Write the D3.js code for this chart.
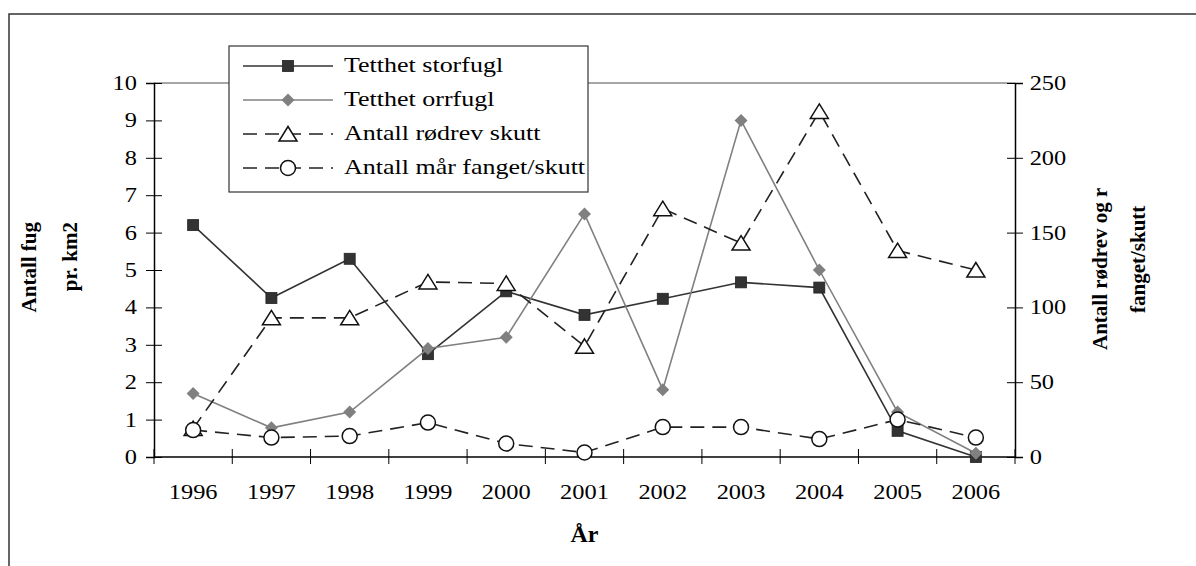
<!doctype html>
<html>
<head>
<script src="https://d3js.org/d3.v7.min.js"></script>
<style>
body { margin: 0; background: #fff; }
svg text { font-family: "Liberation Serif", "Times New Roman", serif; fill: #000; }
</style>
</head>
<body>
<svg width="1196" height="566"></svg>
<script>
// data
var years = [1996, 1997, 1998, 1999, 2000, 2001, 2002, 2003, 2004, 2005, 2006];
var storfugl = [6.2, 4.25, 5.3, 2.75, 4.43, 3.8, 4.23, 4.67, 4.53, 0.7, 0.0];
var orrfugl = [1.7, 0.78, 1.2, 2.9, 3.2, 6.5, 1.8, 9.0, 5.0, 1.2, 0.1];
var rodrev = [19, 93, 93, 117, 116, 74, 166, 143, 231, 138, 125];
var maar = [18, 13, 14, 23, 9, 3, 20, 20, 12, 25, 13];
var leftTicks = [0, 1, 2, 3, 4, 5, 6, 7, 8, 9, 10];
var rightTicks = [0, 50, 100, 150, 200, 250];
var seriesNames = ["Tetthet storfugl", "Tetthet orrfugl", "Antall rødrev skutt", "Antall mår fanget/skutt"];

var svg = d3.select("svg");
var L = 154, R = 1015, T = 83, B = 457;

// outer chart border (runs off the right and bottom edge)
svg.append("rect")
	.attr("x", 9).attr("y", 14)
	.attr("width", 1200).attr("height", 600)
	.attr("fill", "none").attr("stroke", "#333").attr("stroke-width", 1.5);

var x = d3.scaleBand().domain(years).range([L, R]);
var cx = d => x(d) + x.bandwidth() / 2;
var yL = d3.scaleLinear().domain([0, 10]).range([B, T]);
var yR = d3.scaleLinear().domain([0, 250]).range([B, T]);

// plot area top border
svg.append("line")
	.attr("x1", L).attr("x2", R).attr("y1", T).attr("y2", T)
	.attr("stroke", "#888").attr("stroke-width", 1.5);

// left axis
var gl = svg.append("g").attr("transform", "translate(" + L + ",0)")
	.call(d3.axisLeft(yL).tickValues(leftTicks).tickSize(8).tickFormat(d3.format("d")));
gl.selectAll(".tick line").attr("x1", -8).attr("x2", 8);
gl.selectAll("text").attr("x", -14).attr("transform", "scale(1.22,1)");

// right axis
var gr = svg.append("g").attr("transform", "translate(" + R + ",0)")
	.call(d3.axisRight(yR).tickValues(rightTicks).tickSize(8));
gr.selectAll(".tick line").attr("x1", -8).attr("x2", 8);
gr.selectAll("text").attr("x", 12).attr("transform", "scale(1.22,1)");

// bottom axis: labels at category centres, ticks between categories
var gb = svg.append("g").attr("transform", "translate(0," + B + ")");
gb.append("line").attr("x1", L).attr("x2", R).attr("stroke", "#000").attr("stroke-width", 1.5);
gb.selectAll("line.tk").data(years.concat(["end"])).enter().append("line")
	.attr("class", "tk")
	.attr("x1", d => d === "end" ? R : x(d)).attr("x2", d => d === "end" ? R : x(d))
	.attr("y1", -8).attr("y2", 7).attr("stroke", "#000");
gb.selectAll("g.lab").data(years).enter().append("g")
	.attr("class", "lab")
	.attr("transform", d => "translate(" + cx(d) + ",42)")
	.append("text").attr("text-anchor", "middle").attr("font-size", 20)
	.attr("transform", "scale(1.22,1)").text(d => d);

[gl, gr].forEach(function(g) {
	g.select(".domain").attr("stroke", "#000").attr("stroke-width", 1.5);
	g.selectAll(".tick line").attr("stroke", "#000");
	g.selectAll("text").attr("font-size", 20).attr("font-family", "Liberation Serif").attr("fill", "#000");
});

// axis titles
svg.append("text").attr("x", (L + R) / 2).attr("y", 542)
	.attr("text-anchor", "middle").attr("font-weight", "bold").attr("font-size", 24).text("År");

svg.append("text").attr("transform", "translate(36,222) rotate(-90)")
	.attr("text-anchor", "end").attr("font-weight", "bold").attr("font-size", 21).text("Antall fug");
svg.append("text").attr("transform", "translate(77,222) rotate(-90)")
	.attr("text-anchor", "end").attr("font-weight", "bold").attr("font-size", 21).text("pr. km2");
svg.append("text").attr("transform", "translate(1107,350) rotate(-90)")
	.attr("font-weight", "bold").attr("font-size", 21).text("Antall rødrev og r");
svg.append("text").attr("transform", "translate(1145,313) rotate(-90)")
	.attr("font-weight", "bold").attr("font-size", 21).text("fanget/skutt");

// series
var series = [
	{name: seriesNames[0], vals: storfugl, y: yL, color: "#333", dash: null, marker: "square"},
	{name: seriesNames[1], vals: orrfugl, y: yL, color: "#808080", dash: null, marker: "diamond"},
	{name: seriesNames[2], vals: rodrev, y: yR, color: "#222", dash: "14,8", marker: "triangle"},
	{name: seriesNames[3], vals: maar, y: yR, color: "#222", dash: "14,8", marker: "circle"}
];

function drawMarker(g, type, color) {
	if (type === "square") {
		g.append("rect").attr("x", -5.5).attr("y", -5.5).attr("width", 11).attr("height", 11)
			.attr("fill", color).attr("stroke", "#222").attr("stroke-width", 0.8);
	} else if (type === "diamond") {
		g.append("path").attr("d", "M0,-6.5L6.5,0L0,6.5L-6.5,0Z").attr("fill", color);
	} else if (type === "triangle") {
		g.append("path").attr("d", "M0,-7.5L9,7L-9,7Z")
			.attr("fill", "#fff").attr("stroke", "#111").attr("stroke-width", 1.5);
	} else {
		g.append("circle").attr("r", 7.5)
			.attr("fill", "#fff").attr("stroke", "#111").attr("stroke-width", 1.5);
	}
}

series.forEach(function(s) {
	var line = d3.line().x((d, i) => cx(years[i])).y(d => s.y(d));
	svg.append("path").datum(s.vals).attr("d", line)
		.attr("fill", "none").attr("stroke", s.color).attr("stroke-width", 1.6)
		.attr("stroke-dasharray", s.dash);
	s.vals.forEach(function(v, i) {
		var g = svg.append("g").attr("transform", "translate(" + cx(years[i]) + "," + s.y(v) + ")");
		drawMarker(g, s.marker, s.color);
	});
});

// legend
var lg = svg.append("g");
lg.append("rect").attr("x", 229).attr("y", 46).attr("width", 359).attr("height", 146)
	.attr("fill", "#fff").attr("stroke", "#333").attr("stroke-width", 1.2);
series.forEach(function(s, i) {
	var ry = 66 + i * 34;
	lg.append("line").attr("x1", 243).attr("x2", 333).attr("y1", ry).attr("y2", ry)
		.attr("stroke", s.color).attr("stroke-width", 1.6).attr("stroke-dasharray", s.dash);
	drawMarker(lg.append("g").attr("transform", "translate(288," + ry + ")"), s.marker, s.color);
	lg.append("g").attr("transform", "translate(344," + (ry + 6) + ")")
		.append("text").attr("font-size", 20).attr("transform", "scale(1.3,1)").text(s.name);
});
</script>
</body>
</html>
